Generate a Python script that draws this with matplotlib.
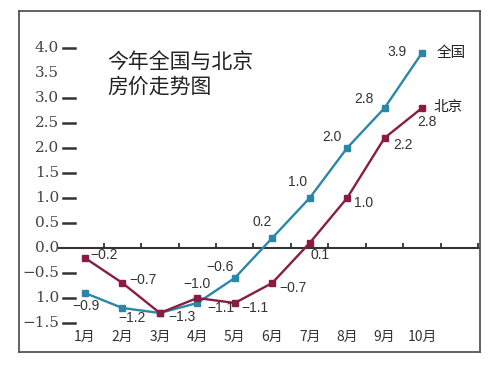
import matplotlib
matplotlib.use("Agg")
import matplotlib.pyplot as plt
import matplotlib.transforms as mtransforms

plt.rcParams['font.family'] = ['Noto Sans CJK SC', 'DejaVu Sans']

# data
months = [1, 2, 3, 4, 5, 6, 7, 8, 9, 10]
month_labels = ["1月", "2月", "3月", "4月", "5月", "6月", "7月", "8月", "9月", "10月"]
national = [-0.9, -1.2, -1.3, -1.1, -0.6, 0.2, 1.0, 2.0, 2.8, 3.9]
beijing = [-0.2, -0.7, -1.3, -1.0, -1.1, -0.7, 0.1, 1.0, 2.2, 2.8]
ytick_vals = [4.0, 3.5, 3.0, 2.5, 2.0, 1.5, 1.0, 0.5, 0.0, -0.5, -1.0, -1.5]
ytick_text = ["4.0", "3.5", "3.0", "2.5", "2.0", "1.5", "1.0", "0.5", "0.0", "−0.5", "1.0", "−1.5"]
ytick_dash = [True, False, True, True, True, True, True, True, False, True, True, True]
title = "今年全国与北京\n房价走势图"
series_names = ["全国", "北京"]

# label offsets in pixels (None = no label)
off_nat = [(1, -13), (10, -10), (22, -4), (24, -5), (-15, 11), (-10, 16), (-12, 16), (-15, 11), (-21, 9), (-25, 1)]
off_bj = [(19, 3), (21, 3), None, (0, 14), (20, -5), (21, -5), (10, -12), (16, -5), (18, -7), (5, -14)]

c_nat = "#2a88a6"
c_bj = "#8a1c44"

fig = plt.figure(figsize=(5, 3.72), dpi=100)
ax = fig.add_axes([19 / 500, 1 - 352 / 372, 461 / 500, 341 / 372])
ax.set_xlim(-0.763, 11.55)
ax.set_ylim(-2.08, 4.74)
for s in ax.spines.values():
    s.set_color("#555555")
    s.set_linewidth(1.3)
ax.set_xticks([])
ax.set_yticks([])

# zero axis with small upward ticks
ax.axhline(0, xmin=0.085, xmax=1, color="#333333", lw=1.5, zorder=1)
tick_pos = [m + 0.5 for m in months] + [months[-1] + 1.5]
ax.vlines(tick_pos, 0, 0.11, color="#333333", lw=1.3, zorder=1)

# y labels with dashes
ylab_tr = mtransforms.blended_transform_factory(ax.transAxes, ax.transData)
for v, t, d in zip(ytick_vals, ytick_text, ytick_dash):
    ax.text(0.087, v, t, transform=ylab_tr, ha="right", va="center",
            fontsize=11, family="DejaVu Serif", color="#444444")
    if d:
        ax.plot([0.096, 0.122], [v, v], transform=ylab_tr, color="#333333", lw=1.8)

# month labels
for m, lab in zip(months, month_labels):
    ax.text(m, -1.78, lab, ha="center", va="center", fontsize=10, color="#333333")

# lines
ax.plot(months, national, color=c_nat, lw=1.7, marker="s", ms=5, zorder=3)
ax.plot(months, beijing, color=c_bj, lw=1.7, marker="s", ms=5, zorder=3)

def fmt(v):
    return f"{v:.1f}".replace("-", "−")

for m, v, o in zip(months, national, off_nat):
    if o is not None:
        ax.annotate(fmt(v), (m, v), xytext=o, textcoords="offset pixels",
                    ha="center", va="center", fontsize=10,
                    family="Liberation Sans", color="#333333")
for m, v, o in zip(months, beijing, off_bj):
    if o is not None:
        ax.annotate(fmt(v), (m, v), xytext=o, textcoords="offset pixels",
                    ha="center", va="center", fontsize=10,
                    family="Liberation Sans", color="#333333")

# series names at line ends
ax.annotate(series_names[0], (months[-1], national[-1]), xytext=(15, 0),
            textcoords="offset pixels", ha="left", va="center", fontsize=10.5, color="#222222")
ax.annotate(series_names[1], (months[-1], beijing[-1]), xytext=(11, 1),
            textcoords="offset pixels", ha="left", va="center", fontsize=10.5, color="#222222")

ax.text(0.191, 0.815, title, transform=ax.transAxes, ha="left", va="center",
        fontsize=15, linespacing=1.15, color="#222222")

fig.savefig("out.png", dpi=100)
